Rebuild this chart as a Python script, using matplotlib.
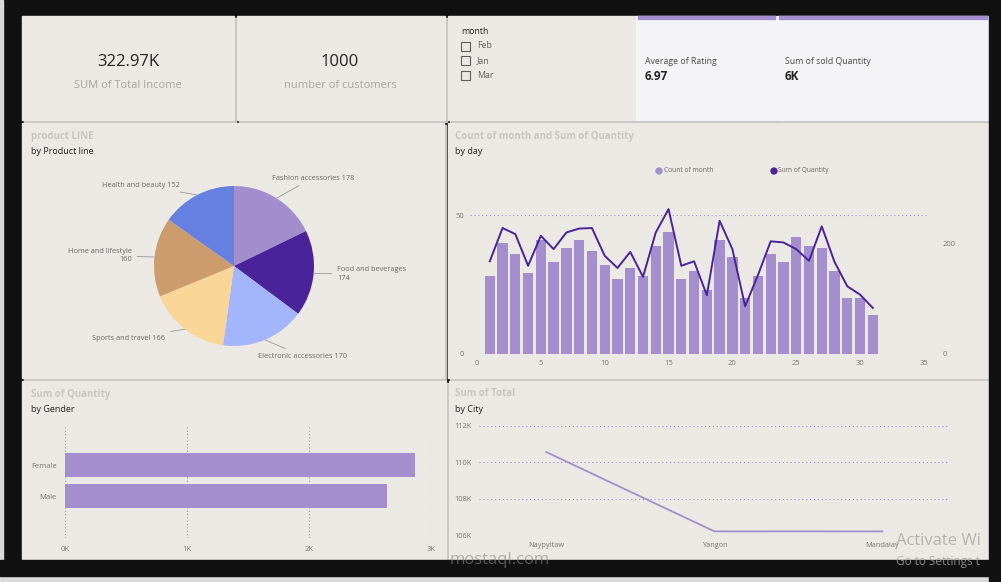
import numpy as np
import matplotlib
matplotlib.use('Agg')
from matplotlib import pyplot as plt
from matplotlib.patches import Rectangle

plt.rcParams['font.family'] = ['Open Sans', 'DejaVu Sans']

# ---- data ----
total_income = '322.97K'
n_customers = '1000'
avg_rating = '6.97'
sold_qty = '6K'
months = ['Feb', 'Jan', 'Mar']

product_lines = ['Fashion accessories', 'Food and beverages', 'Electronic accessories',
                 'Sports and travel', 'Home and lifestyle', 'Health and beauty']
product_counts = [178, 174, 170, 166, 160, 152]

days = np.arange(1, 32)
count_month = [28, 40, 36, 29, 41, 33, 38, 41, 37, 32, 27, 31, 28, 39, 44, 27,
               30, 23, 41, 35, 20, 28, 36, 33, 42, 39, 38, 30, 20, 20, 14]
sum_quantity = [167, 227, 216, 159, 213, 189, 219, 226, 227, 177, 155, 184, 139, 219, 261, 159,
                167, 106, 240, 189, 86, 142, 203, 201, 189, 168, 230, 166, 122, 107, 83]

genders = ['Male', 'Female']
gender_qty = [2641, 2869]

cities = ['Naypyitaw', 'Yangon', 'Mandalay']
city_total = [110568.7, 106200.4, 106197.7]

# ---- style ----
W, H = 1001, 582
PANEL = '#ECE9E4'
PURPLE = '#A48ECE'
DARK = '#4A2398'
pie_cols = ['#A38ECD', '#4A2398', '#A4B6FB', '#F9D597', '#CC9C6C', '#6580E0']
TICK = '#7A7774'
TITLE_GRAY = '#C9C6C1'

fig = plt.figure(figsize=(W / 100, H / 100), dpi=100)
fig.patch.set_facecolor('#111111')

bg = fig.add_axes([0, 0, 1, 1])
bg.set_xlim(0, W)
bg.set_ylim(H, 0)
bg.axis('off')


def px_axes(x0, y0, x1, y1):
    return fig.add_axes([x0 / W, 1 - y1 / H, (x1 - x0) / W, (y1 - y0) / H])


def panel(x0, y0, x1, y1, color=PANEL):
    bg.add_patch(Rectangle((x0 + 2, y0 + 2), x1 - x0, y1 - y0, color='#C3C1BE', zorder=1))
    bg.add_patch(Rectangle((x0, y0), x1 - x0, y1 - y0, color=color, zorder=2))


# side strips
bg.add_patch(Rectangle((0, 0), 3, 582, color='#DADADA', zorder=0))
bg.add_patch(Rectangle((0, 576), 1001, 6, color='#DADADA', zorder=0))

# panels
panel(22, 16, 234, 120)
panel(237, 16, 445, 120)
panel(448, 16, 636, 120)
panel(636, 16, 776, 120, '#F4F4F6')
panel(777, 16, 988, 120, '#F4F4F6')
bg.add_patch(Rectangle((638, 16), 137, 2.5, color=PURPLE, zorder=3))
bg.add_patch(Rectangle((779, 16), 208, 2.5, color=PURPLE, zorder=3))
panel(22, 123, 444, 378)
panel(448, 123, 988, 378)
panel(22, 381, 446, 560)
panel(449, 381, 988, 560)
bg.add_patch(Rectangle((0, 560), 1001, 16, color='#111111', zorder=3))
bg.add_patch(Rectangle((989, 0), 12, 582, color='#111111', zorder=3))

# cards
bg.text(128, 62, total_income, ha='center', va='center', fontsize=12, color='#252423', zorder=4)
bg.text(128, 86, 'SUM of Total Income', ha='center', va='center', fontsize=8, color='#A8A6A3', zorder=4)
bg.text(340, 62, n_customers, ha='center', va='center', fontsize=12, color='#252423', zorder=4)
bg.text(340, 86, 'number of customers', ha='center', va='center', fontsize=8, color='#A8A6A3', zorder=4)

# slicer
bg.text(461, 31, 'month', ha='left', va='center', fontsize=6.3, color='#252423', zorder=4)
for i, m in enumerate(months):
    yy = 46 + i * 14.5
    bg.add_patch(Rectangle((461, yy - 4.5), 9, 9, fill=False, ec='#605E5C', lw=0.8, zorder=4))
    bg.text(477, yy, m, ha='left', va='center', fontsize=6.3, color='#605E5C', zorder=4)

bg.text(645, 61, 'Average of Rating', ha='left', va='center', fontsize=6.3, color='#4C4A48', zorder=4)
bg.text(645, 76, avg_rating, ha='left', va='center', fontsize=8.5, fontweight='bold', color='#252423', zorder=4)
bg.text(785, 61, 'Sum of sold Quantity', ha='left', va='center', fontsize=6.3, color='#4C4A48', zorder=4)
bg.text(785, 76, sold_qty, ha='left', va='center', fontsize=8.5, fontweight='bold', color='#252423', zorder=4)

# panel titles
titles = [(31, 136, 'product LINE', 'by Product line'),
          (455, 136, 'Count of month and Sum of Quantity', 'by day'),
          (31, 394, 'Sum of Quantity', 'by Gender'),
          (455, 394, 'Sum of Total', 'by City')]
for x, y, t1, t2 in titles:
    bg.text(x, y, t1, ha='left', va='center', fontsize=7, fontweight='bold', color=TITLE_GRAY, zorder=4)
    bg.text(x, y + 15, t2, ha='left', va='center', fontsize=6.5, color='#252423', zorder=4)

# ---- pie ----
axp = px_axes(134, 166, 334, 366)
axp.pie(product_counts, colors=pie_cols, startangle=90, counterclock=False,
        wedgeprops=dict(linewidth=0))
axp.set_xlim(-1.25, 1.25)
axp.set_ylim(-1.25, 1.25)
axp.set_aspect('equal')
label_pos = [(0.47, 1.1, 'left'), (1.29, -0.1, 'left'), (0.3, -1.125, 'left'),
             (-0.86, -0.9, 'right'), (-1.28, 0.13, 'right'), (-0.68, 1.01, 'right')]
fracs = np.cumsum([0] + product_counts) / sum(product_counts)
for i, (name, val) in enumerate(zip(product_lines, product_counts)):
    mid = np.deg2rad(90 - 360 * (fracs[i] + fracs[i + 1]) / 2)
    tx, ty, ha = label_pos[i]
    txt = f'{name} {val}'
    if name in ('Food and beverages', 'Home and lifestyle'):
        txt = f'{name}\n{val}'
    axp.annotate(txt, xy=(np.cos(mid), np.sin(mid)), xytext=(tx, ty), ha=ha, va='center',
                 fontsize=5.3, color='#6B6967', linespacing=1.3,
                 arrowprops=dict(arrowstyle='-', color='#9A9896', lw=0.6,
                                 shrinkA=2, shrinkB=0),
                 annotation_clip=False)

# ---- combo ----
axc = px_axes(470, 200, 929, 354)
axc.set_facecolor('none')
axc.bar(days, count_month, width=0.81, color=PURPLE, zorder=2)
axc.set_xlim(-0.55, 35.4)
axc.set_ylim(0, 55.4)
axc.set_xticks(range(0, 36, 5))
axc.set_yticks([0, 50])
axc.grid(axis='y', linestyle=(0, (1, 2.5)), color='#9F92C8', lw=0.8, zorder=0)
axc.tick_params(length=0, labelsize=5.5, labelcolor=TICK, pad=4)
for s in axc.spines.values():
    s.set_visible(False)
axc2 = axc.twinx()
axc2.plot(days, sum_quantity, color=DARK, lw=1.4)
axc2.set_ylim(0, 277.5)
axc2.set_yticks([0, 200])
axc2.tick_params(length=0, labelsize=5.5, labelcolor=TICK, pad=10)
for s in axc2.spines.values():
    s.set_visible(False)
bg.scatter([659, 774], [171, 171], s=18, color=[PURPLE, DARK], zorder=4)
bg.text(664, 171, 'Count of month', ha='left', va='center', fontsize=4.8, color='#6B6967', zorder=4)
bg.text(778, 171, 'Sum of Quantity', ha='left', va='center', fontsize=4.8, color='#6B6967', zorder=4)

# ---- gender bars ----
axg = px_axes(65, 427, 431, 538)
axg.set_facecolor('none')
axg.barh(range(len(genders)), gender_qty, height=0.77, color=PURPLE, zorder=2)
axg.set_xlim(0, 3000)
axg.set_ylim(-1.35, 2.23)
axg.set_xticks([0, 1000, 2000, 3000])
axg.set_xticklabels(['0K', '1K', '2K', '3K'])
axg.set_yticks(range(len(genders)))
axg.set_yticklabels(genders)
axg.grid(axis='x', linestyle=(0, (1, 2)), color='#9A98A0', lw=0.8, zorder=0)
axg.tick_params(length=0, labelsize=5.5, labelcolor=TICK, pad=6)
for s in axg.spines.values():
    s.set_visible(False)

# ---- city line ----
axl = px_axes(479, 426, 948, 535)
axl.set_facecolor('none')
axl.plot(range(len(cities)), city_total, color=PURPLE, lw=1.3)
axl.set_xlim(-0.4, 2.39)
axl.set_ylim(106000, 112000)
axl.set_yticks([106000, 108000, 110000, 112000])
axl.set_yticklabels(['106K', '108K', '110K', '112K'])
axl.set_xticks(range(len(cities)))
axl.set_xticklabels(cities)
axl.grid(axis='y', linestyle=(0, (1, 2.5)), color='#9F92C8', lw=0.8, zorder=0)
axl.tick_params(length=0, labelsize=5.3, labelcolor=TICK, pad=5)
for s in axl.spines.values():
    s.set_visible(False)

# overlays (as they appear, cut by the screen edge)
bg.text(500, 560, 'mostaql.com', ha='center', va='center', fontsize=12, color='#8A8784', alpha=0.6, zorder=6)
bg.text(896, 541, 'Activate Wi', ha='left', va='center', fontsize=12, color='#A8A6A4', alpha=0.8, zorder=6)
bg.text(896, 562, 'Go to Settings t', ha='left', va='center', fontsize=8.5,
        color='#A8A6A4', alpha=0.8, zorder=6)

fig.savefig('out.png', dpi=100, facecolor=fig.get_facecolor())
